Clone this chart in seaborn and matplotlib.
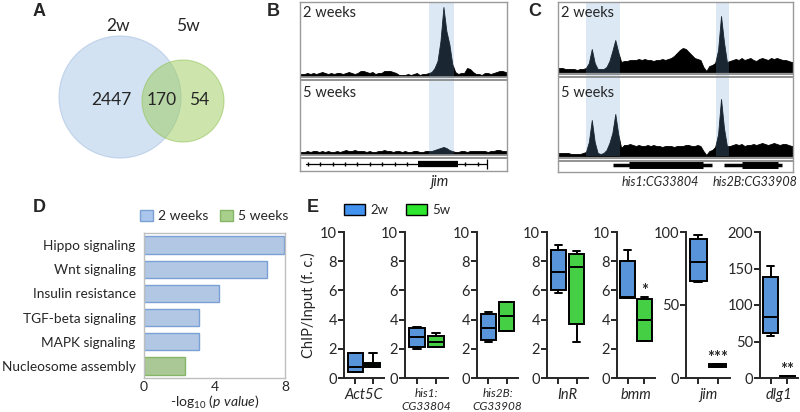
import numpy as np
import pandas as pd
import matplotlib
matplotlib.use('Agg')
import matplotlib.pyplot as plt
from matplotlib.patches import Circle, Patch
import seaborn as sns

# ---------------- data ----------------
# A: venn of bound genes
venn_sets = ['2w', '5w']
venn_counts = [2447, 170, 54]  # only 2w, both, only 5w

# B: jim locus coverage (70 bins, height in track units)
jim_2w = [2, 2, 3, 2, 3, 2, 3, 4, 3, 2,
          3, 2, 3, 3, 2, 3, 4, 3, 2, 3,
          5, 5, 4, 3, 4, 2, 3, 3, 5, 5,
          5, 4, 3, 1, 1, 1, 2, 1, 2, 3,
          1, 2, 2, 3, 4, 8, 15, 35, 69, 45,
          32, 12, 4, 2, 3, 3, 8, 7, 4, 2,
          2, 1, 3, 3, 2, 3, 4, 5, 5, 4]
jim_5w = [2, 2, 3, 2, 3, 3, 2, 3, 2, 3,
          2, 2, 3, 2, 3, 4, 3, 3, 4, 3,
          3, 3, 2, 3, 2, 2, 3, 3, 4, 3,
          3, 2, 3, 3, 2, 3, 2, 2, 3, 3,
          2, 2, 3, 3, 3, 4, 5, 6, 7, 6,
          4, 3, 2, 2, 3, 3, 2, 3, 3, 3,
          3, 3, 3, 2, 3, 3, 4, 4, 3, 3]
jim_bands = [(43.6, 52.1)]
jim_gene = (2.0, 63.2)
jim_exon = (39.9, 53.4)
jim_marks = [2.7, 6.8, 11.2, 15.2, 19.3, 23.7, 27.7, 32.1, 36.2, 55.7, 60.2]

# C: histone locus coverage (80 bins)
his_2w = [4, 4, 3, 3, 3, 3, 2, 3, 3, 4,
          9, 23, 9, 3, 3, 3, 5, 11, 21, 32,
          20, 10, 11, 11, 12, 12, 12, 13, 12, 13,
          12, 12, 11, 12, 12, 13, 12, 13, 14, 16,
          19, 22, 24, 23, 20, 17, 14, 13, 12, 5,
          1, 6, 7, 9, 22, 56, 30, 10, 11, 12,
          13, 12, 14, 12, 13, 14, 12, 11, 13, 14,
          13, 12, 14, 13, 14, 13, 12, 12, 11, 10]
his_5w = [3, 3, 3, 3, 2, 2, 2, 2, 3, 4,
          14, 36, 14, 3, 2, 3, 6, 13, 23, 42,
          22, 8, 11, 11, 12, 11, 10, 11, 10, 10,
          11, 10, 11, 10, 10, 9, 10, 10, 10, 9,
          10, 10, 10, 11, 11, 10, 10, 11, 10, 5,
          1, 5, 6, 9, 22, 57, 28, 10, 10, 11,
          12, 11, 12, 10, 11, 11, 12, 11, 12, 13,
          12, 11, 12, 13, 12, 11, 12, 12, 11, 10]
his_bands = [(9.5, 21.1), (53.8, 58.2)]
his_genes = ['his1:CG33804', 'his2B:CG33908']
his_gene_span = [(18.7, 52.4), (56.5, 76.2)]
his_cds_span = [(24.2, 49.3), (62.6, 74.8)]

# D: enriched pathways
pathways = ['Hippo signaling', 'Wnt signaling', 'Insulin resistance',
            'TGF-beta signaling', 'MAPK signaling', 'Nucleosome assembly']
pval_score = [7.95, 7.0, 4.25, 3.1, 3.1, 2.35]
path_group = ['2 weeks', '2 weeks', '2 weeks', '2 weeks', '2 weeks', '5 weeks']

# E: ChIP-qPCR (min, q1, median, q3, max)
chip_genes = ['Act5C', 'his1:\nCG33804', 'his2B:\nCG33908', 'InR', 'bmm', 'jim', 'dlg1']
chip_2w = [[0.41, 0.42, 0.76, 1.74, 1.74],
           [2.02, 2.13, 2.82, 3.44, 3.51],
           [2.48, 2.59, 3.44, 4.38, 4.5],
           [5.8, 6.03, 7.29, 8.78, 9.08],
           [5.5, 5.5, 5.55, 7.98, 8.78],
           [65.6, 66.3, 79.6, 95.5, 97.8],
           [57.8, 61, 83.5, 139, 153.5]]
chip_5w = [[0.76, 0.76, 0.92, 1.05, 1.74],
           [2.13, 2.13, 2.45, 2.91, 3.05],
           [3.21, 3.21, 4.24, 5.23, 5.23],
           [2.48, 3.67, 7.59, 8.49, 8.72],
           [2.55, 2.55, 3.94, 5.41, 5.57],
           [7.5, 7.8, 8.5, 9.3, 9.6],
           [1.5, 1.8, 2.2, 2.6, 3.0]]
chip_stars = ['', '', '', '', '*', '***', '**']
chip_ymax = [10, 10, 10, 10, 10, 100, 200]
chip_ystep = [2, 2, 2, 2, 2, 50, 50]

# ---------------- style ----------------
sns.set_style('ticks')
plt.rcParams['font.family'] = ['Lato', 'DejaVu Sans']
plt.rcParams['mathtext.fontset'] = 'custom'
plt.rcParams['mathtext.rm'] = 'Lato'
plt.rcParams['mathtext.it'] = 'Lato:italic'

W, H = 800, 412
fig = plt.figure(figsize=(8, 4.12), dpi=100)


def rect(x0, y0, x1, y1):
    return [x0 / W, 1 - y1 / H, (x1 - x0) / W, (y1 - y0) / H]


def ftext(x, y, s, **kw):
    fig.text(x / W, 1 - y / H, s, **kw)


for lab, (lx, ly) in zip('ABCDE', [(39, 12), (273, 12), (535, 12), (39, 207), (313, 207)]):
    ftext(lx, ly, lab, fontsize=13, fontweight='bold', family='Liberation Sans',
          ha='center', va='center')

# ---------------- A: venn ----------------
ax = fig.add_axes(rect(0, 0, 280, 200))
ax.set_xlim(0, 280)
ax.set_ylim(200, 0)
ax.axis('off')
ax.add_patch(Circle((120, 97), 61, fc='#a9c6e8', ec='#9bb8dc', alpha=0.5, lw=0.8))
ax.add_patch(Circle((183, 101), 41, fc='#9ccc5a', ec='#8bbd4a', alpha=0.5, lw=0.8))
ax.text(118, 26, venn_sets[0], fontsize=12.5, ha='center', va='center')
ax.text(188, 26, venn_sets[1], fontsize=12.5, ha='center', va='center')
for cx, n in zip([111, 162, 199], venn_counts):
    ax.text(cx, 100, str(n), fontsize=12.5, ha='center', va='center')


# ---------------- B / C: tracks ----------------
def draw_locus(x0, x1, y_top, y_bot, tracks, tracks_y, seps, bands):
    nb = len(tracks[0])
    for vals, (t0, t1) in zip(tracks, tracks_y):
        tax = fig.add_axes(rect(x0, t0, x1, t1))
        xs = np.r_[0, np.arange(nb) + 0.5, nb]
        ys = np.r_[vals[0], vals, vals[-1]]
        tax.fill_between(xs, ys, color='black', lw=0.6, edgecolor='black')
        tax.set_xlim(0, nb)
        tax.set_ylim(0, t1 - t0)
        tax.axis('off')
    fax = fig.add_axes(rect(x0, y_top, x1, y_bot))
    fax.patch.set_visible(False)
    fax.set_xlim(0, nb)
    fax.set_ylim(y_bot, y_top)
    for a, b in bands:
        fax.fill_betweenx([y_top, tracks_y[1][1]], a, b, color=(0.436, 0.63, 0.82),
                          alpha=0.24, lw=0)
    for s in seps:
        fax.axhline(s, color='#8a8a8a', lw=1.3)
    fax.set_xticks([])
    fax.set_yticks([])
    for sp in fax.spines.values():
        sp.set_color('#9a9a9a')
        sp.set_linewidth(1)
    ftext(x0 + 3, 13, '2 weeks', fontsize=10.5, ha='left', va='center')
    ftext(x0 + 3, 93, '5 weeks', fontsize=10.5, ha='left', va='center')
    return fax


fax = draw_locus(300, 507, 2, 171, [jim_2w, jim_5w], [(2, 76), (82, 154)],
                 [77.5, 80, 155.5, 158.5], jim_bands)
fax.plot(jim_gene, [164, 164], color='black', lw=0.9)
fax.plot(jim_exon, [164, 164], color='black', lw=4.5, solid_capstyle='butt')
fax.plot(jim_marks, [164] * len(jim_marks), ls='none', marker='|', ms=3.5,
         mew=1, color='black')
fax.plot([jim_gene[1]], [164], ls='none', marker='|', ms=7, mew=0.9, color='black')
ftext(439, 182, 'jim', fontsize=10.5, style='italic', ha='center', va='center')

fax = draw_locus(558, 793, 2, 172, [his_2w, his_5w], [(2, 72), (80, 156)],
                 [74, 77, 157.5, 160.5], his_bands)
for (g0, g1), (c0, c1) in zip(his_gene_span, his_cds_span):
    fax.plot([g0, g1], [165, 165], color='black', lw=2.5, solid_capstyle='butt')
    fax.plot([c0, c1], [165, 165], color='black', lw=5, solid_capstyle='butt')
for gx, g in zip([660, 755], his_genes):
    ftext(gx, 182, g, fontsize=9, style='italic', ha='center', va='center')

# ---------------- D: pathways ----------------
df_d = pd.DataFrame({'pathway': pathways, 'score': pval_score, 'group': path_group})
pal_d = {'2 weeks': '#aac6ec', '5 weeks': '#a8d08c'}
edge_d = {'2 weeks': '#7aa0d6', '5 weeks': '#85b566'}
ax = fig.add_axes(rect(144, 233, 285, 378))
sns.barplot(data=df_d, x='score', y='pathway', hue='group', palette=pal_d,
            dodge=False, width=0.72, legend=False, ax=ax)
for cont, grp in zip(ax.containers, ['2 weeks', '5 weeks']):
    for bar in cont:
        bar.set_edgecolor(edge_d[grp])
        bar.set_linewidth(1)
ax.set_xlim(0, 8)
ax.set_xticks([0, 4, 8])
ax.tick_params(axis='x', length=0, labelsize=10, pad=2)
ax.tick_params(axis='y', length=0, labelsize=9.8, pad=6)
ax.set_ylabel('')
ax.set_xlabel(r'-log$_{10}$ ($\mathit{p\ value}$)', fontsize=10, labelpad=1)
for sp in ax.spines.values():
    sp.set_color('#bfbfbf')
    sp.set_linewidth(1)
fig.legend(handles=[Patch(fc=pal_d[g], ec=edge_d[g]) for g in pal_d], labels=list(pal_d),
           loc='center left', bbox_to_anchor=(140 / W, 1 - 216 / H), ncol=2,
           frameon=False, fontsize=10, handlelength=0.95, handleheight=0.9,
           handletextpad=0.35, columnspacing=0.8, borderpad=0, borderaxespad=0)

# ---------------- E: ChIP-qPCR ----------------
rows = []
for g, v2, v5 in zip(chip_genes, chip_2w, chip_5w):
    rows += [(g, '2w', v) for v in v2] + [(g, '5w', v) for v in v5]
df_e = pd.DataFrame(rows, columns=['gene', 'age', 'value'])
pal_e = {'2w': '#4292f0', '5w': '#2ee62e'}
ax_x = [(344, 384), (405, 448), (477, 518), (547, 588), (617, 655), (686, 730), (760, 798)]
for i, g in enumerate(chip_genes):
    x0, x1 = ax_x[i]
    ax = fig.add_axes(rect(x0, 232, x1, 378))
    sub = df_e[df_e.gene == g]
    sns.boxplot(data=sub, x='gene', y='value', hue='age', hue_order=['2w', '5w'],
                palette=pal_e, whis=(0, 100), width=0.8, gap=0.15, linewidth=1.4,
                linecolor='black', showfliers=False, legend=False, ax=ax)
    ax.set_xlim(-0.45, 0.45)
    ax.set_ylim(0, chip_ymax[i])
    ax.set_yticks(np.arange(0, chip_ymax[i] + 1, chip_ystep[i]))
    ax.set_xticks([-0.2, 0.2])
    ax.set_xticklabels([])
    ax.tick_params(width=1.4, length=4, labelsize=10.5, pad=1)
    sns.despine(ax=ax)
    for sp in ['left', 'bottom']:
        ax.spines[sp].set_linewidth(1.4)
    fs = 8.5 if '\n' in g else 10.5
    ax.set_xlabel(g, style='italic', fontsize=fs, labelpad=2)
    ax.set_ylabel('ChIP/Input (f. c.)' if i == 0 else '', fontsize=10.5, labelpad=3)
    if chip_stars[i]:
        ax.text(0.2, max(chip_5w[i]) + 0.04 * chip_ymax[i], chip_stars[i],
                ha='center', va='center', fontsize=12, fontweight='bold')

fig.legend(handles=[Patch(fc=pal_e[k], ec='black', lw=1) for k in pal_e], labels=list(pal_e),
           loc='center left', bbox_to_anchor=(344 / W, 1 - 210 / H), ncol=2,
           frameon=False, fontsize=9.5, handlelength=1.6, handleheight=0.85,
           handletextpad=0.4, columnspacing=1.3, borderpad=0, borderaxespad=0)

fig.savefig('out.png', dpi=100)
